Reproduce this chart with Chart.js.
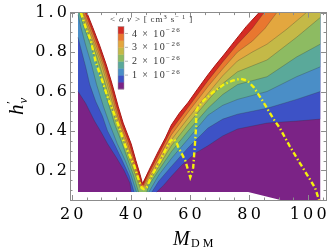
<!DOCTYPE html>
<html>
<head>
<meta charset="utf-8">
<script src="https://cdn.jsdelivr.net/npm/chart.js@4.4.1/dist/chart.umd.min.js"></script>
<style>
  html, body { margin: 0; padding: 0; background: #fff; }
  canvas { display: block; }
</style>
</head>
<body>
<canvas id="sigmaChart" width="332" height="249"></canvas>
<script>
// <sigma v> contour levels, in units of 1e-26 cm^3 s^-1
const levels = [0.5, 1.0, 1.5, 2.0, 2.5, 3.0, 3.5, 4.0, 4.5];
const bandColors = ['#7b2386', '#3d52c6', '#4a8ec7', '#5aa99a', '#8dbb62', '#c4b947', '#e3a73f', '#e9772f', '#d52b24', '#ffffff'];
const legendTicks = [1, 2, 3, 4];

const xTicks = [20, 40, 60, 80, 100];
const yTicks = [0.2, 0.4, 0.6, 0.8, 1.0];

// scanned region in (M_DM, h')
const scanEdge = [[22.1, 1.0], [22.1, 0.09], [79.7, 0.09], [93.4, 0.04], [104.1, 0.04], [104.1, 1.0]];

// contours left of the resonance, top -> bottom
const left05 = [[22.1, 0.6], [24.7, 0.54], [27.7, 0.45], [30.1, 0.39], [32.1, 0.335], [35.1, 0.265], [37.7, 0.2], [39.7, 0.135], [40.1, 0.09]];
const left10 = [[22.1, 0.875], [23.4, 0.8], [24.7, 0.725], [26.1, 0.635], [28.1, 0.55], [30.4, 0.475], [32.1, 0.4], [34.7, 0.325], [37.1, 0.25], [39.4, 0.175], [41.1, 0.09]];
const left15 = [[22.1, 0.99], [23.1, 0.925], [24.7, 0.835], [26.7, 0.735], [28.4, 0.635], [30.7, 0.525], [32.7, 0.44], [35.4, 0.335], [38.1, 0.25], [40.1, 0.175], [41.9, 0.09]];
const left20 = [[22.6, 1.0], [24.2, 0.925], [26.4, 0.835], [28.6, 0.735], [30.4, 0.635], [32.7, 0.525], [34.4, 0.44], [37.1, 0.335], [39.1, 0.25], [40.9, 0.175], [42.6, 0.09]];
const left25 = [[23.1, 1.0], [24.9, 0.925], [27.2, 0.835], [29.4, 0.735], [31.4, 0.635], [33.4, 0.525], [35.2, 0.44], [37.9, 0.335], [39.7, 0.25], [41.6, 0.175], [43.2, 0.11]];
const left30 = [[23.6, 1.0], [25.4, 0.925], [27.7, 0.835], [30.1, 0.735], [32.1, 0.635], [34.1, 0.525], [35.7, 0.44], [38.4, 0.335], [40.2, 0.25], [41.9, 0.175], [43.4, 0.115]];
const left35 = [[23.9, 1.0], [25.9, 0.925], [28.2, 0.835], [30.6, 0.735], [32.6, 0.635], [34.6, 0.525], [36.2, 0.44], [38.9, 0.335], [40.7, 0.25], [42.2, 0.175], [43.6, 0.12]];
const left40 = [[24.5, 1.0], [26.5, 0.925], [28.8, 0.835], [31.1, 0.735], [33.1, 0.635], [35.1, 0.525], [36.8, 0.44], [39.5, 0.335], [41.2, 0.25], [42.7, 0.175], [43.7, 0.128]];
const left45 = [[25.1, 1.0], [27.1, 0.925], [29.4, 0.835], [31.7, 0.735], [33.7, 0.635], [35.7, 0.525], [37.4, 0.44], [40.1, 0.335], [41.7, 0.25], [43.1, 0.18], [43.9, 0.135]];

// contours right of the resonance, bottom -> top
const right05 = [[48.7, 0.09], [51.1, 0.125], [53.7, 0.17], [57.1, 0.225], [62.1, 0.29], [66.1, 0.325], [71.1, 0.375], [76.1, 0.41], [86.1, 0.44], [96.1, 0.45], [104.1, 0.46]];
const right10 = [[47.1, 0.09], [49.4, 0.145], [53.7, 0.22], [59.4, 0.315], [66.1, 0.415], [71.1, 0.46], [76.1, 0.485], [86.1, 0.515], [96.1, 0.56], [104.1, 0.6]];
const right15 = [[46.1, 0.09], [49.4, 0.175], [53.7, 0.26], [59.4, 0.36], [66.1, 0.48], [71.1, 0.53], [76.1, 0.56], [86.1, 0.6], [96.1, 0.675], [104.1, 0.725]];
const right20 = [[45.4, 0.09], [46.1, 0.125], [49.4, 0.2], [53.7, 0.295], [59.4, 0.4], [66.1, 0.515], [71.1, 0.585], [76.1, 0.635], [81.1, 0.655], [86.1, 0.675], [96.1, 0.775], [104.1, 0.84]];
const right25 = [[45.1, 0.11], [46.1, 0.14], [49.4, 0.22], [53.7, 0.325], [59.4, 0.435], [66.1, 0.555], [71.1, 0.64], [76.1, 0.7], [81.1, 0.73], [86.1, 0.76], [96.1, 0.875], [104.1, 0.975]];
const right30 = [[44.7, 0.115], [46.1, 0.155], [49.4, 0.24], [53.7, 0.355], [59.4, 0.465], [66.1, 0.59], [71.1, 0.68], [76.1, 0.755], [81.1, 0.8], [86.1, 0.84], [92.7, 0.915], [99.4, 1.0]];
const right35 = [[44.4, 0.12], [46.1, 0.17], [49.4, 0.26], [53.7, 0.38], [59.4, 0.495], [66.1, 0.625], [71.1, 0.715], [76.1, 0.8], [81.1, 0.855], [85.4, 0.92], [89.4, 1.0]];
const right40 = [[44.2, 0.125], [46.1, 0.185], [49.4, 0.28], [53.7, 0.405], [59.4, 0.52], [66.1, 0.655], [71.1, 0.75], [76.1, 0.84], [81.1, 0.92], [85.1, 1.0]];
const right45 = [[44.1, 0.135], [46.1, 0.2], [49.4, 0.3], [51.7, 0.365], [53.7, 0.43], [56.4, 0.49], [59.4, 0.545], [62.7, 0.615], [66.1, 0.685], [68.7, 0.735], [71.7, 0.79], [75.1, 0.855], [79.1, 0.93], [83.4, 1.0]];

// yellow dash-dot curve
const omegaCurve = [[23.1, 1.0], [24.7, 0.925], [26.4, 0.86], [28.1, 0.75], [30.4, 0.65], [32.4, 0.56], [34.4, 0.485], [36.1, 0.415], [38.1, 0.325], [41.1, 0.225], [42.7, 0.15], [43.7, 0.11], [44.4, 0.105],
  [45.4, 0.115], [47.1, 0.175], [48.7, 0.215], [50.4, 0.265], [52.1, 0.315], [53.4, 0.35], [54.4, 0.36], [55.4, 0.345], [56.1, 0.315], [57.4, 0.28], [58.4, 0.25], [59.4, 0.2], [60.1, 0.165], [60.7, 0.19], [61.1, 0.215],
  [61.4, 0.275], [61.7, 0.335], [62.1, 0.425], [62.1, 0.5], [62.7, 0.52], [64.7, 0.555], [67.7, 0.595], [71.4, 0.635], [74.4, 0.655], [77.1, 0.665], [79.4, 0.655], [81.7, 0.62], [84.7, 0.55], [88.1, 0.465],
  [90.4, 0.415], [93.7, 0.325], [97.1, 0.24], [100.4, 0.16], [102.4, 0.11], [103.7, 0.05]];

const leftSides = [left05, left10, left15, left20, left25, left30, left35, left40, left45];
const rightSides = [right05, right10, right15, right20, right25, right30, right35, right40, right45];

const frameColor = '#8c8c8c';
const serif = '"Liberation Serif", "Times New Roman", serif';
const spaced = s => s.split('').join('\u2009');
const toPts = arr => arr.map(([x, y]) => ({ x, y }));

// region where <sigma v> is above level k: left contour, across the bottom, right contour, back along the top
function levelArea(k) {
    const l = leftSides[k], r = rightSides[k];
    const pts = [];
    if (l[0][1] < 1) pts.push([l[0][0], 1.0]);
    pts.push(...l, ...r);
    const last = r[r.length - 1];
    if (last[1] < 1) pts.push([last[0], 1.0]);
    return toPts(pts);
}

const datasets = [];
datasets.push({ data: toPts(scanEdge), backgroundColor: bandColors[0], borderWidth: 0, fill: 'shape', showLine: true, order: 50 });
levels.forEach((lv, k) => {
    datasets.push({ data: levelArea(k), backgroundColor: bandColors[k + 1], borderWidth: 0, fill: 'shape', showLine: true, order: 40 - k });
});
levels.forEach((lv, k) => {
    const top = k === levels.length - 1;
    [leftSides[k], rightSides[k]].forEach(side => {
        datasets.push({
            data: toPts(side),
            borderColor: top ? '#a71915' : 'rgba(45,45,45,0.45)',
            borderWidth: top ? 1 : 0.6,
            fill: false, showLine: true, order: 5
        });
    });
});
datasets.push({ data: toPts(omegaCurve), borderColor: '#f4f20c', borderWidth: 2.4, borderDash: [5, 2.5, 1.5, 2.5], fill: false, showLine: true, order: 1 });

// inward frame ticks on all four sides
const frameTicks = {
    id: 'frameTicks',
    afterDatasetsDraw(chart) {
        const { ctx, chartArea: a, scales: { x, y } } = chart;
        ctx.save();
        ctx.strokeStyle = frameColor;
        ctx.lineWidth = 1;
        ctx.beginPath();
        for (let v = 20; v <= 105; v += 5) {
            const px = Math.round(x.getPixelForValue(v)) + 0.5;
            const len = xTicks.includes(v) ? 5 : 2.5;
            ctx.moveTo(px, a.bottom); ctx.lineTo(px, a.bottom - len);
            ctx.moveTo(px, a.top); ctx.lineTo(px, a.top + len);
        }
        for (let i = 2; i <= 20; i++) {
            const v = i * 0.05;
            const py = Math.round(y.getPixelForValue(v)) + 0.5;
            const len = i % 4 === 0 ? 5 : 2.5;
            ctx.moveTo(a.left, py); ctx.lineTo(a.left + len, py);
            ctx.moveTo(a.right, py); ctx.lineTo(a.right - len, py);
        }
        ctx.stroke();
        ctx.restore();
    }
};

function drawRuns(ctx, x, y, runs) {
    runs.forEach(([text, font, dy]) => {
        ctx.font = font;
        ctx.fillText(text, x, y + dy);
        x += ctx.measureText(text).width;
    });
    return x;
}

const axisTitles = {
    id: 'axisTitles',
    afterDraw(chart) {
        const { ctx, chartArea: a } = chart;
        ctx.save();
        ctx.fillStyle = '#000';
        ctx.textBaseline = 'alphabetic';
        ctx.textAlign = 'left';
        const cx = (a.left + a.right) / 2;
        ctx.font = 'italic 20px ' + serif;
        ctx.fillText('M', cx - 25, 245);
        ctx.letterSpacing = '3px';
        ctx.font = '12px ' + serif;
        ctx.fillText('DM', cx - 7, 247);
        ctx.letterSpacing = '0px';

        ctx.translate(23, 115);
        ctx.rotate(-Math.PI / 2);
        ctx.font = 'italic 21px ' + serif;
        ctx.fillText('h', 0, 0);
        const w = ctx.measureText('h').width;
        ctx.font = '13px ' + serif;
        ctx.fillText('\u2032', w + 0.5, -8);
        ctx.font = 'italic 13px ' + serif;
        ctx.fillText('\u03bd', w + 1, 4);
        ctx.restore();
    }
};

const colorKey = {
    id: 'colorKey',
    afterDraw(chart) {
        const ctx = chart.ctx;
        const x0 = 118, w = 6, top = 26.5, bottom = 89;
        const n = levels.length;
        const bh = (bottom - top) / n;
        ctx.save();
        for (let i = 0; i < n; i++) {
            ctx.fillStyle = bandColors[i];
            ctx.fillRect(x0, bottom - (i + 1) * bh, w, bh + 0.4);
        }
        ctx.strokeStyle = '#9a9a9a';
        ctx.lineWidth = 0.5;
        ctx.strokeRect(x0, top, w, bottom - top);

        ctx.fillStyle = '#333';
        ctx.strokeStyle = '#666';
        ctx.textBaseline = 'middle';
        ctx.letterSpacing = '1.4px';
        legendTicks.forEach(v => {
            const py = bottom - v / levels[n - 1] * (bottom - top);
            ctx.beginPath();
            ctx.moveTo(x0 + w + 1, py); ctx.lineTo(x0 + w + 4, py);
            ctx.stroke();
            drawRuns(ctx, x0 + 14, py + 0.5, [[v + ' \u00d7 10', '10px ' + serif, 0], ['\u2212' + '26', '7px ' + serif, -3.5]]);
        });

        ctx.textBaseline = 'alphabetic';
        ctx.letterSpacing = '1px';
        drawRuns(ctx, 110, 22, [
            ['<\u2009', '9px ' + serif, 0],
            ['\u03c3\u2009v', 'italic 9px ' + serif, 0],
            ['\u2009>\u2009[\u2009cm', '9px ' + serif, 0],
            ['3', '6.5px ' + serif, -3.5],
            ['\u2009s', '9px ' + serif, 0],
            ['\u2212\u20091', '6.5px ' + serif, -3.5],
            ['\u2009]', '9px ' + serif, 0]
        ]);
        ctx.restore();
    }
};

const tickFont = { family: '"DejaVu Serif", serif', size: 16 };

new Chart(document.getElementById('sigmaChart').getContext('2d'), {
    type: 'scatter',
    data: { datasets },
    options: {
        responsive: false,
        animation: false,
        events: [],
        layout: { padding: { top: 10, right: 2, left: 0, bottom: 0 } },
        elements: { point: { radius: 0 }, line: { tension: 0 } },
        plugins: { legend: { display: false }, tooltip: { enabled: false } },
        scales: {
            x: {
                type: 'linear', min: 19.4, max: 106.07,
                afterFit: s => { s.height = 49; },
                afterBuildTicks: s => { s.ticks = xTicks.map(v => ({ value: v })); },
                grid: { display: false, drawTicks: false },
                border: { color: frameColor, z: 1 },
                ticks: { font: tickFont, color: '#000', padding: 5, autoSkip: false, maxRotation: 0, callback: v => spaced(String(v)) }
            },
            y: {
                type: 'linear', min: 0.05, max: 1.0,
                afterFit: s => { s.width = 70; },
                afterBuildTicks: s => { s.ticks = yTicks.map(v => ({ value: v })); },
                grid: { display: false, drawTicks: false },
                border: { color: frameColor, z: 1 },
                ticks: { font: tickFont, color: '#000', padding: 3, autoSkip: false, callback: v => spaced(v.toFixed(1)) }
            },
            xTop: {
                type: 'linear', position: 'top', min: 19.4, max: 106.07,
                afterFit: s => { s.height = 0; },
                grid: { display: false, drawTicks: false },
                border: { color: frameColor, z: 1 },
                ticks: { display: false }
            },
            yRight: {
                type: 'linear', position: 'right', min: 0.05, max: 1.0,
                afterFit: s => { s.width = 0; },
                grid: { display: false, drawTicks: false },
                border: { color: frameColor, z: 1 },
                ticks: { display: false }
            }
        }
    },
    plugins: [frameTicks, axisTitles, colorKey]
});
</script>
</body>
</html>
